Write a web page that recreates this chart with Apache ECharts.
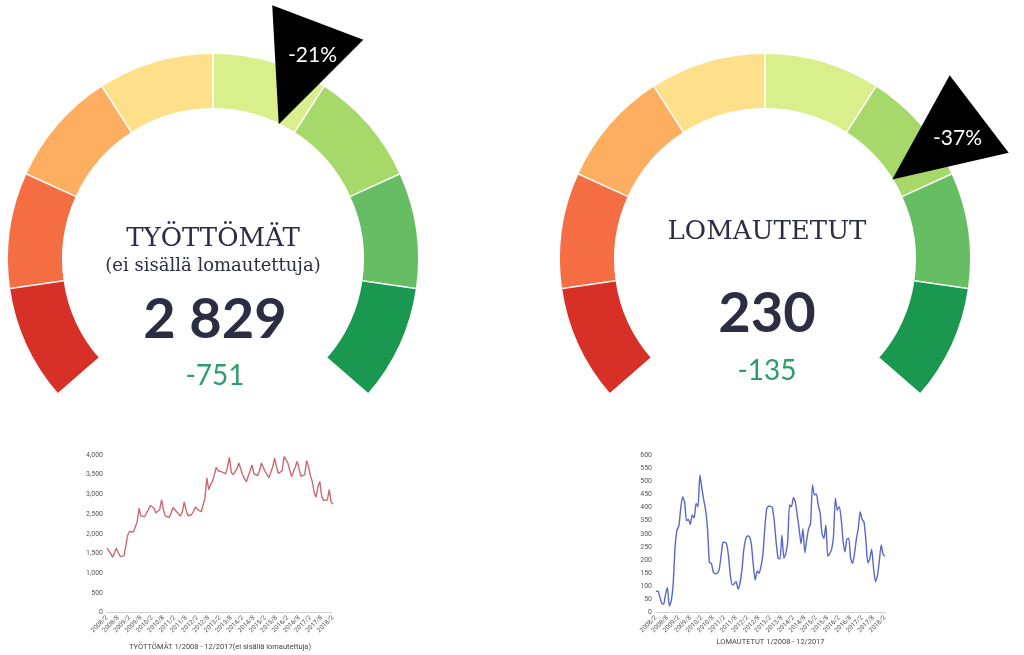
<!DOCTYPE html>
<html><head><meta charset="utf-8">
<script src="https://cdn.jsdelivr.net/npm/echarts@6/dist/echarts.min.js"></script>
<style>html,body{margin:0;padding:0;background:#fff}#c{width:1024px;height:655px}</style>
</head><body><div id="c"></div>
<script>
// ---- categories (monthly, 2008/2 .. 2018/2) ----
const months = [
 '2008/2','2008/3','2008/4','2008/5','2008/6','2008/7','2008/8','2008/9','2008/10','2008/11','2008/12',
 '2009/1','2009/2','2009/3','2009/4','2009/5','2009/6','2009/7','2009/8','2009/9','2009/10','2009/11','2009/12',
 '2010/1','2010/2','2010/3','2010/4','2010/5','2010/6','2010/7','2010/8','2010/9','2010/10','2010/11','2010/12',
 '2011/1','2011/2','2011/3','2011/4','2011/5','2011/6','2011/7','2011/8','2011/9','2011/10','2011/11','2011/12',
 '2012/1','2012/2','2012/3','2012/4','2012/5','2012/6','2012/7','2012/8','2012/9','2012/10','2012/11','2012/12',
 '2013/1','2013/2','2013/3','2013/4','2013/5','2013/6','2013/7','2013/8','2013/9','2013/10','2013/11','2013/12',
 '2014/1','2014/2','2014/3','2014/4','2014/5','2014/6','2014/7','2014/8','2014/9','2014/10','2014/11','2014/12',
 '2015/1','2015/2','2015/3','2015/4','2015/5','2015/6','2015/7','2015/8','2015/9','2015/10','2015/11','2015/12',
 '2016/1','2016/2','2016/3','2016/4','2016/5','2016/6','2016/7','2016/8','2016/9','2016/10','2016/11','2016/12',
 '2017/1','2017/2','2017/3','2017/4','2017/5','2017/6','2017/7','2017/8','2017/9','2017/10','2017/11','2017/12',
 '2018/1','2018/2'
];
// ---- series values ----
const unemployed = [
 1640,1600,1500,1410,1520,1640,1520,1430,1420,1440,1700,1970,
 2060,2060,2050,2060,2300,2650,2450,2400,2440,2490,2620,2720,
 2700,2650,2530,2480,2620,2870,2600,2450,2430,2420,2520,2670,
 2620,2560,2540,2450,2560,2810,2600,2460,2470,2490,2580,2680,
 2620,2570,2560,2550,2900,3420,3120,3250,3330,3500,3690,3600,
 3580,3570,3550,3520,3700,3940,3560,3500,3480,3650,3800,3650,
 3500,3400,3320,3290,3600,3750,3520,3480,3480,3600,3800,3680,
 3580,3500,3420,3400,3700,3920,3700,3530,3540,3600,3960,3880,
 3800,3620,3450,3420,3700,3840,3650,3460,3480,3500,3860,3700,
 3480,3330,3050,2930,3200,3330,2950,2850,2840,2860,3120,2800,
 2760
];
const laidOff = [
 80,83,60,36,32,70,95,25,45,110,250,315,
 330,400,441,420,350,355,336,372,360,416,403,524,
 475,430,390,320,190,188,155,148,150,160,210,266,
 268,262,215,140,105,110,118,90,112,160,240,280,
 292,290,258,180,124,159,150,175,220,320,395,405,
 405,400,346,265,207,205,296,207,225,270,410,403,
 438,422,372,320,262,320,228,280,320,340,486,448,
 452,410,380,300,283,334,215,225,240,290,435,390,
 403,360,275,232,280,283,207,188,225,280,321,384,
 355,345,275,190,205,242,170,118,140,195,258,222,
 215
];
// ---- gauge data ----
const gaugeColors = ['#d73027','#f46d43','#fdae61','#fee08b','#d9ef8b','#a6d96a','#66bd63','#1a9850'];
const gaugeChange = [-21, -37];
const gaugeChangeLabels = ['-21%', '-37%'];
const gaugeTitles = ['TYÖTTÖMÄT', 'LOMAUTETUT'];
const gaugeSubtitles = ['(ei sisällä lomautettuja)', ''];
const currentValues = ['2 829', '230'];
const diffValues = ['-751', '-135'];
// ---- small chart axes ----
const yTicks1 = {min: 0, max: 4000, interval: 500};
const yTicks2 = {min: 0, max: 600, interval: 50};
const chartNames = ['TYÖTTÖMÄT 1/2008 - 12/2017(ei sisällä lomautettuja)', 'LOMAUTETUT 1/2008 - 12/2017'];

const centers = [[213, 259], [765, 259]];
const outerR = 205, bandW = 54;
const colorStops = gaugeColors.map((c, i) => [(i + 1) / gaugeColors.length, c]);

function gaugeSeries(k) {
  return {
    type: 'gauge', center: centers[k], radius: outerR,
    startAngle: 221, endAngle: -41, min: 57.5, max: -73.5, splitNumber: 8,
    axisLine: {lineStyle: {width: bandW, color: colorStops}},
    splitLine: {distance: -bandW, length: bandW, lineStyle: {color: '#fff', width: 1.5}},
    axisTick: {show: false}, axisLabel: {show: false},
    progress: {show: false}, anchor: {show: false},
    pointer: {icon: 'path://M0,9 L97,0 L58,113 Z', width: 97, length: 113,
      offsetCenter: [-9.5, -150], itemStyle: {color: '#000'}},
    title: {show: false}, detail: {show: false},
    data: [{value: gaugeChange[k]}], z: 2
  };
}
function labelSeries(k) {
  return {
    type: 'scatter', coordinateSystem: 'polar', polarIndex: k, z: 10,
    symbol: 'circle', symbolSize: 0, silent: true,
    data: [[227, gaugeChange[k]]],
    label: {show: true, position: 'inside', formatter: gaugeChangeLabels[k],
      color: '#ffffff', fontSize: 21, fontFamily: 'Lato', opacity: 1,
      textBorderWidth: 0, textShadowBlur: 0}
  };
}
function lineGrid(left, width) { return {left: left, width: width, top: 455, height: 157.7}; }
function xAx(k, nameGap) {
  return {type: 'category', gridIndex: k, data: months, boundaryGap: false,
    axisLine: {lineStyle: {color: '#c8c8c8', type: 'dotted'}}, axisTick: {show: false},
    axisLabel: {interval: 5, rotate: 45, fontSize: 6.5, color: '#555', margin: 4, fontFamily: 'Roboto'},
    name: chartNames[k], nameLocation: 'middle', nameGap: nameGap,
    nameTextStyle: {fontSize: 7.5, color: '#444', fontFamily: 'Roboto'}};
}
function yAx(k, t) {
  return {type: 'value', gridIndex: k, min: t.min, max: t.max, interval: t.interval,
    axisLine: {show: false}, axisTick: {show: false}, splitLine: {show: false},
    axisLabel: {fontSize: 7, color: '#555', margin: 4, fontFamily: 'Roboto',
      formatter: v => v.toLocaleString('en-US')}};
}
function txt(x, y, text, font, fill) {
  return {type: 'text', x: x, y: y, silent: true,
    style: {text: text, font: font, fill: fill, textAlign: 'center', textVerticalAlign: 'middle',
      align: 'center', verticalAlign: 'middle'}};
}
const navy = '#2b2d42', green = '#2d9d6c';
const chart = echarts.init(document.getElementById('c'), null, {renderer: 'canvas'});
chart.setOption({
  animation: false,
  textStyle: {fontFamily: 'Roboto'},
  polar: centers.map(c => ({center: c, radius: [0, 260]})),
  angleAxis: [0, 1].map(k => ({polarIndex: k, type: 'value', min: -53, max: 127, startAngle: 0, clockwise: false, show: false})),
  radiusAxis: [0, 1].map(k => ({polarIndex: k, type: 'value', min: 0, max: 260, show: false})),
  grid: [lineGrid(107, 226), lineGrid(656, 229)],
  xAxis: [xAx(0, 30), xAx(1, 25)],
  yAxis: [yAx(0, yTicks1), yAx(1, yTicks2)],
  series: [
    gaugeSeries(0), gaugeSeries(1), labelSeries(0), labelSeries(1),
    {type: 'line', xAxisIndex: 0, yAxisIndex: 0, data: unemployed, showSymbol: false,
      lineStyle: {color: '#cc6a72', width: 1.4}, itemStyle: {color: '#cc6a72'}},
    {type: 'line', xAxisIndex: 1, yAxisIndex: 1, data: laidOff, showSymbol: false, smooth: 0.2,
      lineStyle: {color: '#5a67c8', width: 1.4}, itemStyle: {color: '#5a67c8'}}
  ],
  graphic: [
    txt(213, 239, gaugeTitles[0], '26px "DejaVu Serif"', navy),
    txt(213, 266, gaugeSubtitles[0], '18px "DejaVu Serif"', navy),
    txt(215, 320, currentValues[0], 'bold 56px Lato', navy),
    txt(215, 376, diffValues[0], '28px Lato', green),
    txt(767, 232, gaugeTitles[1], '26px "DejaVu Serif"', navy),
    txt(767, 314, currentValues[1], 'bold 56px Lato', navy),
    txt(767, 371, diffValues[1], '28px Lato', green)
  ]
});
</script></body></html>
